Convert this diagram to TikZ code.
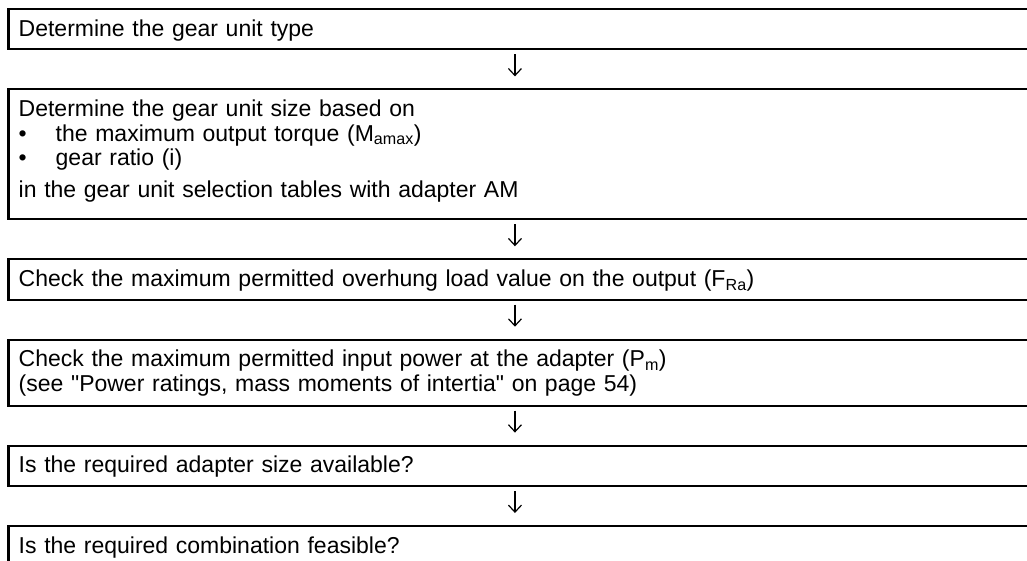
\documentclass[tikz,border=0pt]{standalone}
\usepackage{fontspec}
\newfontfamily\stepfont{Liberation Sans}
\usetikzlibrary{arrows.meta, positioning}

\newcommand{\topstrut}{\rule{0pt}{27pt}}
\newcommand{\botstrut}[1][13pt]{\rule[-#1]{0pt}{#1}}
\newcommand{\bulletitem}{\makebox[37pt][l]{•}}

\begin{document}
\begin{tikzpicture}[
        font=\stepfont\fontsize{23}{24.5}\selectfont,
        node distance=40pt,
        stepbox/.style={
            anchor=north west,
            text width=998.5pt,
            align=left,
            inner xsep=10pt,
            inner ysep=0pt
        },
        frame/.style={
            line width=2.2pt
        },
        flow/.style={
            -{Straight Barb[length=7pt, width=13pt]},
            line width=1.2pt,
            shorten <=5pt,
            shorten >=13pt
        }
    ]
    \useasboundingbox (0pt,0pt) rectangle (1027pt,-561pt);

    \node[stepbox] (type) at (8.5pt,-9pt) {\topstrut Determine the gear unit type\botstrut};
    \node[stepbox, below=of type.south west, anchor=north west] (size) {\topstrut Determine the gear unit size based on\\
        \bulletitem the maximum output torque (M\textsubscript{amax})\\
        \bulletitem gear ratio (i)\\[7pt]
        in the gear unit selection tables with adapter AM\botstrut[22pt]};
    \node[stepbox, below=of size.south west, anchor=north west] (load) {\topstrut Check the maximum permitted overhung load value on the output (F\textsubscript{Ra})\botstrut};
    \node[stepbox, below=of load.south west, anchor=north west] (power) {\topstrut Check the maximum permitted input power at the adapter (P\textsubscript{m})\\
        (see "Power ratings, mass moments of intertia" on page 54)\botstrut[14pt]};
    \node[stepbox, below=of power.south west, anchor=north west] (adapter) {\topstrut Is the required adapter size available?\botstrut};
    \node[stepbox, below=of adapter.south west, anchor=north west] (combo) {\topstrut Is the required combination feasible?\botstrut};

    % open frames, no right edge
    \foreach \b in {type, size, load, power, adapter}
        \draw[frame] (\b.north east) -- (\b.north west) -- (\b.south west) -- (\b.south east);
    \draw[frame] (combo.north east) -- (combo.north west) -- (combo.south west);

    \foreach \a/\b in {type/size, size/load, load/power, power/adapter, adapter/combo}
        \draw[flow] ([xshift=-3pt]\a.south) -- ([xshift=-3pt]\b.north);

\end{tikzpicture}
\end{document}
